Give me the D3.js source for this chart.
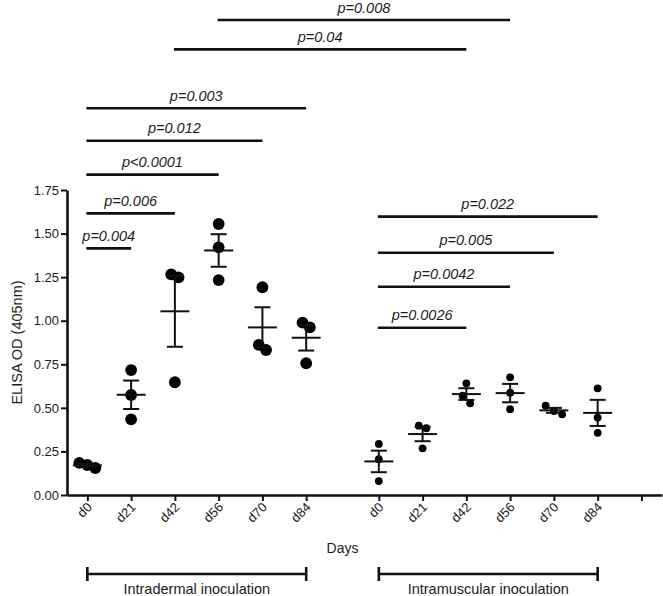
<!DOCTYPE html>
<html>
<head>
<meta charset="utf-8">
<script src="https://cdn.jsdelivr.net/npm/d3@7"></script>
<style>
  html, body { margin: 0; padding: 0; background: #fff; }
  svg { display: block; font-family: "Liberation Sans", Arial, Helvetica, sans-serif; }
</style>
</head>
<body>
<svg id="chart" width="663" height="596"></svg>
<script>
// ---------------- DATA ----------------
const days = ["d0", "d21", "d42", "d56", "d70", "d84"];
const groupNames = ["Intradermal inoculation", "Intramuscular inoculation"];
const yTicks = [0, 0.25, 0.5, 0.75, 1.0, 1.25, 1.5, 1.75];
const axisTitleY = "ELISA OD (405nm)";
const axisTitleX = "Days";

// individual animals (ELISA OD 405nm), one array per day
const intradermal = [
  [0.184, 0.155, 0.172],
  [0.717, 0.574, 0.434],
  [1.266, 1.249, 0.647],
  [1.555, 1.421, 1.233],
  [0.832, 1.192, 0.861],
  [0.989, 0.962, 0.756]
];
const intramuscular = [
  [0.293, 0.205, 0.080],
  [0.398, 0.383, 0.268],
  [0.641, 0.570, 0.526],
  [0.675, 0.587, 0.492],
  [0.512, 0.463, 0.482],
  [0.612, 0.444, 0.357]
];

// significance comparisons: [group1, dayIndex1, group2, dayIndex2, bar level (OD units), label]
const comparisons = [
  [0, 0, 0, 1, 1.415, "p=0.004"],
  [0, 0, 0, 2, 1.616, "p=0.006"],
  [0, 0, 0, 3, 1.838, "p<0.0001"],
  [0, 0, 0, 4, 2.033, "p=0.012"],
  [0, 0, 0, 5, 2.219, "p=0.003"],
  [0, 2, 1, 2, 2.557, "p=0.04"],
  [0, 3, 1, 3, 2.725, "p=0.008"],
  [1, 0, 1, 2, 0.960, "p=0.0026"],
  [1, 0, 1, 3, 1.195, "p=0.0042"],
  [1, 0, 1, 4, 1.390, "p=0.005"],
  [1, 0, 1, 5, 1.597, "p=0.022"]
];

// ---------------- LAYOUT ----------------
const svg = d3.select("#chart");
const plotLeft = 67, plotRight = 662, plotBottom = 495, plotTop = 190;
const groupGap = 1.66;           // slot distance between last day of group 1 and first day of group 2
function slotOf(g, i) { return i + g * (days.length - 1 + groupGap); }

const x = d3.scaleLinear().domain([-0.465, 13.13]).range([plotLeft, plotRight]);
const y = d3.scaleLinear().domain([0, 1.75]).range([plotBottom, plotTop]);

const ink = "#111";
const textInk = "#1c1c1c";
const series = [intradermal, intramuscular];
const radius = [5.9, 3.9];
const jitterStep = [7.3, 7.5];

// ---------------- AXES ----------------
const tickSlots = [];
const tickLabels = new Map();
series.forEach((s, g) => days.forEach((d, i) => { const v = slotOf(g, i); tickSlots.push(v); tickLabels.set(v, d); }));
tickSlots.push(slotOf(1, days.length)); // extra unlabeled tick

const yAxis = d3.axisLeft(y).tickValues(yTicks).tickFormat(d3.format(".2f")).tickSize(6).tickSizeOuter(0).tickPadding(2);
const gy = svg.append("g").attr("transform", `translate(${plotLeft},0)`).call(yAxis);
gy.select(".domain").attr("stroke", ink).attr("stroke-width", 2.6);
gy.selectAll(".tick line").attr("stroke", ink).attr("stroke-width", 2);
gy.selectAll(".tick text").attr("fill", textInk).attr("font-size", 13).attr("font-family", "Liberation Sans, Arial, sans-serif");

const xAxis = d3.axisBottom(x).tickValues(tickSlots).tickFormat(v => tickLabels.get(v) || "").tickSize(6).tickSizeOuter(0);
const gx = svg.append("g").attr("transform", `translate(0,${plotBottom})`).call(xAxis);
gx.select(".domain").attr("stroke", ink).attr("stroke-width", 2.6);
gx.selectAll(".tick line").attr("stroke", ink).attr("stroke-width", 2);
gx.selectAll(".tick text")
  .attr("fill", textInk).attr("font-size", 13).attr("font-family", "Liberation Sans, Arial, sans-serif")
  .attr("text-anchor", "end")
  .attr("dy", null).attr("y", 0)
  .attr("transform", "translate(5,13) rotate(-45)");

svg.append("text")
  .attr("transform", `translate(22,${(plotTop + plotBottom) / 2}) rotate(-90)`)
  .attr("text-anchor", "middle").attr("fill", textInk).attr("font-size", 14.5)
  .text(axisTitleY);

svg.append("text")
  .attr("x", x((slotOf(0, 5) + slotOf(1, 0)) / 2)).attr("y", 553)
  .attr("text-anchor", "middle").attr("fill", textInk).attr("font-size", 14)
  .text(axisTitleX);

// ---------------- GROUP BRACKETS ----------------
groupNames.forEach((name, g) => {
  const x0 = x(slotOf(g, 0)), x1 = x(slotOf(g, days.length - 1));
  const by = 574;
  const b = svg.append("g").attr("stroke", ink).attr("stroke-width", 2.6);
  b.append("line").attr("x1", x0).attr("x2", x1).attr("y1", by).attr("y2", by);
  b.append("line").attr("x1", x0).attr("x2", x0).attr("y1", by - 7).attr("y2", by + 7);
  b.append("line").attr("x1", x1).attr("x2", x1).attr("y1", by - 7).attr("y2", by + 7);
  svg.append("text").attr("x", (x0 + x1) / 2).attr("y", 594)
    .attr("text-anchor", "middle").attr("fill", textInk).attr("font-size", 14.5)
    .text(name);
});

// ---------------- POINTS + MEAN ± SEM ----------------
function jitter(vals, g) {
  // cluster points whose vertical distance is below a dot diameter, spread them symmetrically
  const idx = vals.map((v, i) => i).sort((a, b) => vals[b] - vals[a]);
  const off = new Array(vals.length).fill(0);
  const minGap = (2 * radius[g] + 0.5) / (y(0) - y(1));
  let cluster = [idx[0]];
  const flush = () => {
    const n = cluster.length;
    cluster.forEach((k, j) => off[k] = (j - (n - 1) / 2) * jitterStep[g] * (n === 2 ? 1 : 1.1));
  };
  for (let j = 1; j < idx.length; j++) {
    const prev = cluster[cluster.length - 1];
    if (Math.abs(vals[prev] - vals[idx[j]]) < minGap) cluster.push(idx[j]);
    else { flush(); cluster = [idx[j]]; }
  }
  flush();
  return off;
}

series.forEach((s, g) => {
  s.forEach((vals, i) => {
    const cx = x(slotOf(g, i));
    const m = d3.mean(vals);
    const sem = d3.deviation(vals) / Math.sqrt(vals.length);
    const off = jitter(vals, g);
    const gg = svg.append("g");
    gg.selectAll("circle").data(vals).join("circle")
      .attr("cx", (v, k) => cx + off[k]).attr("cy", v => y(v)).attr("r", radius[g]).attr("fill", "#000");
    const ln = (x1, y1, x2, y2) => gg.append("line").attr("x1", x1).attr("y1", y1).attr("x2", x2).attr("y2", y2)
      .attr("stroke", ink).attr("stroke-width", 2);
    ln(cx, y(m - sem), cx, y(m + sem));
    ln(cx - 14.5, y(m), cx + 14.5, y(m));
    ln(cx - 8, y(m - sem), cx + 8, y(m - sem));
    ln(cx - 8, y(m + sem), cx + 8, y(m + sem));
  });
});

// ---------------- SIGNIFICANCE BARS ----------------
comparisons.forEach(([g1, d1, g2, d2, lvl, label]) => {
  const x0 = x(slotOf(g1, d1)) - 1, x1 = x(slotOf(g2, d2));
  const yy = y(lvl);
  svg.append("line").attr("x1", x0).attr("x2", x1).attr("y1", yy).attr("y2", yy)
    .attr("stroke", ink).attr("stroke-width", 2.6);
  svg.append("text").attr("x", (x0 + x1) / 2).attr("y", yy - 7.5)
    .attr("text-anchor", "middle").attr("font-style", "italic").attr("fill", textInk).attr("font-size", 14.5)
    .text(label);
});
</script>
</body>
</html>
